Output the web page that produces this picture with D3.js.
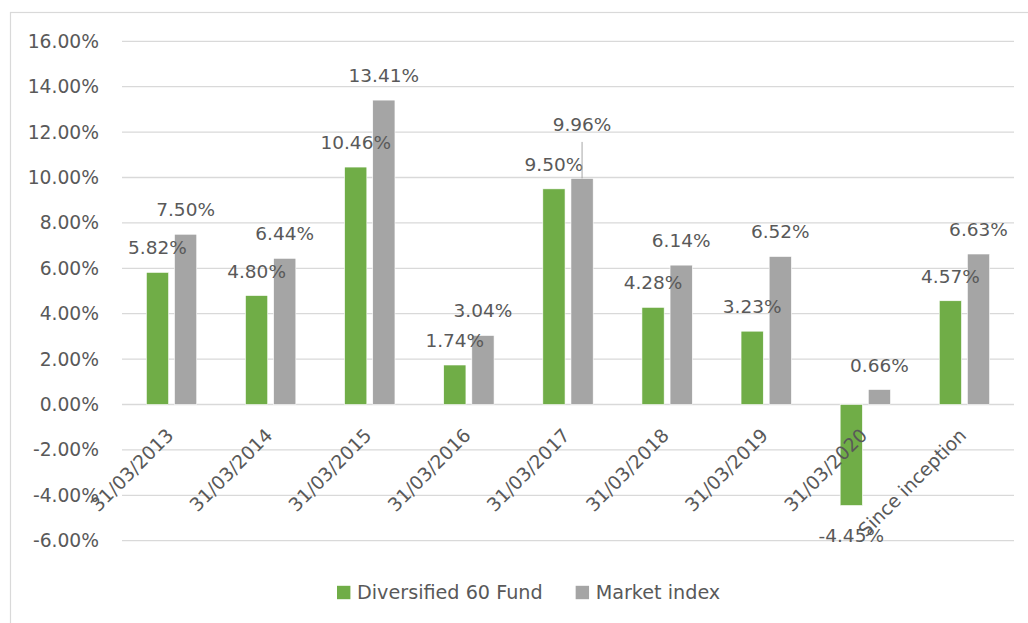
<!DOCTYPE html>
<html>
<head>
<meta charset="utf-8">
<script src="https://cdn.jsdelivr.net/npm/d3@7"></script>
<style>
  html, body { margin: 0; padding: 0; background: #fff; }
  svg { display: block; }
  text { font-family: "DejaVu Sans", sans-serif; fill: #595959; }
</style>
</head>
<body>
<svg id="chart" width="1028" height="623"></svg>
<script>
const categories = ["31/03/2013", "31/03/2014", "31/03/2015", "31/03/2016", "31/03/2017",
                    "31/03/2018", "31/03/2019", "31/03/2020", "Since inception"];
const seriesNames = ["Diversified 60 Fund", "Market index"];
const fundValues = [5.82, 4.80, 10.46, 1.74, 9.50, 4.28, 3.23, -4.45, 4.57];
const indexValues = [7.50, 6.44, 13.41, 3.04, 9.96, 6.14, 6.52, 0.66, 6.63];
const yTicks = [-6, -4, -2, 0, 2, 4, 6, 8, 10, 12, 14, 16];
const colors = ["#70AD47", "#A5A5A5"];
// extra lift (px) for manually moved data labels (Market index 2017 label has a leader line)
const labelLift = [[0,0,0,0,0,0,0,0,0],[0,0,0,0,29,0,0,0,0]];

const svg = d3.select("#chart");
const plot = { left: 122, right: 1014, top: 41.3, bottom: 540.7 };

// outer chart border (only top and left edges fall inside the picture)
svg.append("rect")
  .attr("x", 10.5).attr("y", 12.5).attr("width", 1100).attr("height", 700)
  .attr("fill", "none").attr("stroke", "#d9d9d9").attr("stroke-width", 1.2);

const y = d3.scaleLinear().domain([-6, 16]).range([plot.bottom, plot.top]);
const x0 = d3.scaleBand().domain(categories).range([plot.left, plot.right])
  .paddingInner(0.492).paddingOuter(0.246);
const x1 = d3.scaleBand().domain([0, 1]).range([0, x0.bandwidth()]).paddingInner(0.21);

// gridlines
svg.append("g").selectAll("line").data(yTicks).join("line")
  .attr("x1", plot.left).attr("x2", plot.right)
  .attr("y1", d => y(d)).attr("y2", d => y(d))
  .attr("stroke", "#d9d9d9").attr("stroke-width", 1.3);

// y axis labels
const yAxis = d3.axisLeft(y).tickValues(yTicks).tickSize(0).tickPadding(23)
  .tickFormat(d => d.toFixed(2) + "%");
const gy = svg.append("g").attr("transform", `translate(${plot.left},0)`).call(yAxis);
gy.select(".domain").remove();
gy.selectAll("text").style("font-family", '"DejaVu Sans", sans-serif')
  .style("font-size", "18.7px").attr("fill", "#595959");

const series = [fundValues, indexValues];

// bars
const gBars = svg.append("g");
series.forEach((vals, si) => {
  gBars.selectAll(".bar" + si).data(vals).join("rect")
    .attr("class", "bar" + si)
    .attr("x", (d, i) => x0(categories[i]) + x1(si))
    .attr("width", x1.bandwidth())
    .attr("y", d => y(Math.max(0, d)))
    .attr("height", d => Math.abs(y(d) - y(0)))
    .attr("fill", colors[si])
    .attr("stroke", "#ffffff").attr("stroke-width", 0.6);
});

// category labels (rotated)
const gx = svg.append("g");
gx.selectAll("text").data(categories).join("text")
  .attr("transform", d => `translate(${x0(d) + x0.bandwidth() / 2 + 3},${y(0) + 32}) rotate(-45)`)
  .attr("text-anchor", "end")
  .style("font-size", "18.7px")
  .text(d => d);

// data labels
const gLab = svg.append("g");
series.forEach((vals, si) => {
  vals.forEach((v, i) => {
    const cx = x0(categories[i]) + x1(si) + x1.bandwidth() / 2;
    const lift = labelLift[si][i];
    const cy = v >= 0 ? y(v) - 24.5 - lift : y(v) + 30;
    gLab.append("text")
      .attr("x", cx).attr("y", cy)
      .attr("text-anchor", "middle").attr("dominant-baseline", "central")
      .style("font-size", "18.5px")
      .text(v.toFixed(2) + "%");
    if (lift > 0) {
      gLab.append("line")
        .attr("x1", cx).attr("x2", cx)
        .attr("y1", cy + 17).attr("y2", y(v))
        .attr("stroke", "#a6a6a6").attr("stroke-width", 1);
    }
  });
});

// legend
const legend = svg.append("g").attr("transform", "translate(337,592.5)");
let lx = 0;
seriesNames.forEach((name, si) => {
  const g = legend.append("g").attr("transform", `translate(${lx},0)`);
  g.append("rect").attr("x", 0).attr("y", -6.7).attr("width", 13.4).attr("height", 13.4)
    .attr("fill", colors[si]);
  const t = g.append("text").attr("x", 20).attr("y", 0)
    .attr("dominant-baseline", "central").style("font-size", "19.2px").text(name);
  lx += 20 + t.node().getComputedTextLength() + 33;
});
</script>
</body>
</html>
